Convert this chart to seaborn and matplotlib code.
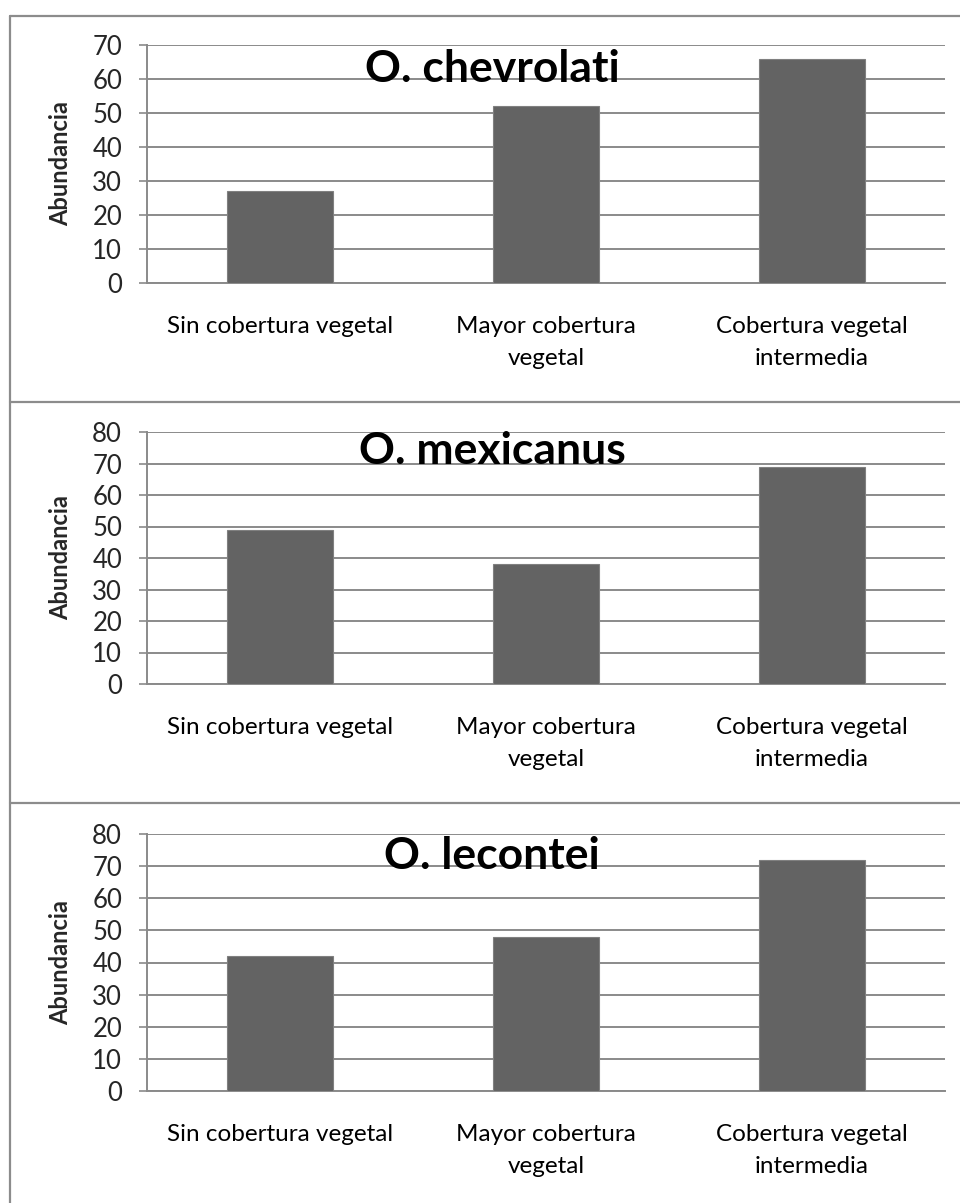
import matplotlib
matplotlib.use("Agg")
import matplotlib.pyplot as plt
from matplotlib.lines import Line2D
import seaborn as sns
import pandas as pd

# Habitat categories and their wrapped axis labels
categories = ["Sin cobertura vegetal", "Mayor cobertura vegetal", "Cobertura vegetal intermedia"]
tick_labels = ["Sin cobertura vegetal", "Mayor cobertura\nvegetal", "Cobertura vegetal\nintermedia"]

# Abundance per species
species = ["O. chevrolati", "O. mexicanus", "O. lecontei"]
chevrolati = [27, 52, 66]
mexicanus = [49, 38, 69]
lecontei = [42, 48, 72]
y_max = [70, 80, 80]

sns.set_style("white")
plt.rcParams["font.family"] = ["Lato", "DejaVu Sans"]

W, H = 960, 1203
fig = plt.figure(figsize=(W / 100, H / 100), dpi=100)

GRID = "#8a8a8a"
BAR = "#636363"

# panel geometry in pixels: (top of plot area, bottom of plot area, title baseline)
panels = [(45, 283, 82), (432, 684, 464), (834, 1091, 869)]
left_px, right_px = 147, 945

for (top, bot, tbase), name, vals, ymax in zip(panels, species, [chevrolati, mexicanus, lecontei], y_max):
    ax = fig.add_axes([left_px / W, 1 - bot / H, (right_px - left_px) / W, (bot - top) / H])
    df = pd.DataFrame({"habitat": categories, "abundancia": vals})
    sns.barplot(data=df, x="habitat", y="abundancia", order=categories, color=BAR,
                saturation=1, width=0.4, edgecolor="#808080", linewidth=0.8, ax=ax, zorder=3)
    ax.set_xlim(-0.5, 2.5)
    ax.set_ylim(0, ymax)
    ax.set_yticks(range(0, ymax + 1, 10))
    ax.yaxis.grid(True, color=GRID, linewidth=1.4, zorder=0)
    ax.set_axisbelow(True)
    for s in ["top", "right"]:
        ax.spines[s].set_visible(False)
    for s in ["left", "bottom"]:
        ax.spines[s].set_color(GRID)
        ax.spines[s].set_linewidth(1.4)
    ax.set_xticks(range(len(categories)))
    ax.set_xticklabels(tick_labels, fontsize=17.5, linespacing=1.65, color="#000000")
    ax.set_xticks([-0.5, 0.5, 1.5, 2.5], minor=True)
    ax.tick_params(axis="x", which="major", length=0, pad=24)
    ax.tick_params(axis="x", which="minor", length=6, width=1.2, color=GRID, direction="out")
    ax.tick_params(axis="y", length=6, width=1.2, color=GRID, direction="out",
                   labelsize=18.5, pad=12, left=True)
    ax.set_xlabel("")
    ax.set_ylabel("Abundancia", fontsize=17, fontweight="bold")
    ax.yaxis.label.set_va("center")
    ax.yaxis.set_label_coords((61 - left_px) / (right_px - left_px), 0.5)
    fig.text(492 / W, 1 - tbase / H, name, ha="center", va="baseline",
             fontsize=32, fontweight="bold", color="#000000", zorder=5)

# panel frames
frame = dict(color="#8c8c8c", linewidth=1.6)
fig.add_artist(Line2D([10 / W, 10 / W], [0, 1 - 16 / H], transform=fig.transFigure, **frame))
for yb in [16, 402, 803]:
    fig.add_artist(Line2D([10 / W, 1], [1 - yb / H, 1 - yb / H], transform=fig.transFigure, **frame))

fig.savefig("out.png", dpi=100, facecolor="white")
